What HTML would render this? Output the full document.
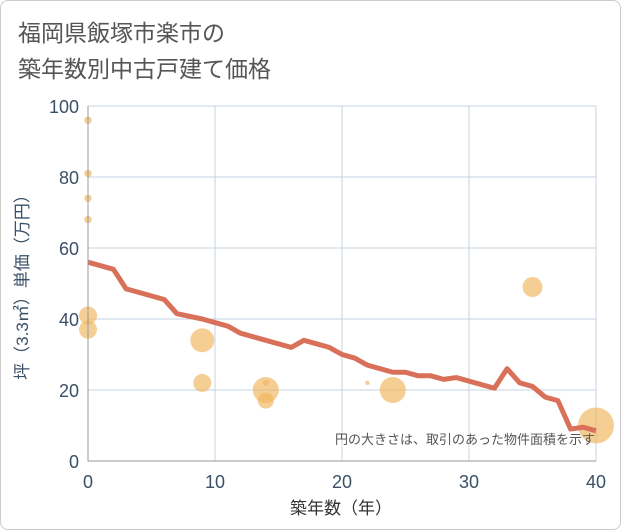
<!DOCTYPE html>
<html><head><meta charset="utf-8"><style>
body{margin:0;background:#fff;font-family:"Liberation Sans","Noto Sans CJK JP",sans-serif}
#wrap{position:relative;width:619px;height:528px;border:1px solid #ccc;border-radius:8px;overflow:hidden}
</style></head><body>
<div id="wrap">
<svg id="chart" width="621" height="530" style="position:absolute;left:-1px;top:-1px">
<text x="18" y="41" font-size="23" fill="#555">福岡県飯塚市楽市の</text>
<text x="18" y="77" font-size="23" fill="#555">築年数別中古戸建て価格</text>
<g id="grid"></g><g id="bubbles"></g><g id="line"></g><g id="axes"></g>
<text x="595" y="444" font-size="13" fill="#555" text-anchor="end">円の大きさは、取引のあった物件面積を示す</text>
<text x="341" y="514" font-size="17" fill="#333" text-anchor="middle">築年数（年）</text>
<text transform="translate(28,283) rotate(-90)" font-size="17" fill="#3a5068" text-anchor="middle">坪（3.3㎡）単価（万円）</text>
</svg>
</div>
<script>
const xTicks=[0,10,20,30,40];
const yTicks=[0,20,40,60,80,100];
const lineYears=[0,2,3,6,7,9,10,11,12,14,16,17,19,20,21,22,24,25,26,27,28,29,32,33,34,35,36,37,38,39,40];
const lineValues=[56,54,48.5,45.5,41.5,40,39,38,36,34,32,34,32,30,29,27,25,25,24,24,23,23.5,20.5,26,22,21,18,17,9,9.5,8.5];
const bubbleYears=[0,0,0,0,0,0,9,9,14,14,14,22,24,35,40];
const bubbleValues=[96,81,74,68,41,37,34,22,20,17,22,22,20,49,10];
const bubbleAreas=[14,14,14,14,81,81,144,81,169,64,9,5,169,100,324];
const NS="http://www.w3.org/2000/svg";
const X=v=>88+v*12.7, Y=v=>461-v*3.55;
function mk(p,t,a){const e=document.createElementNS(NS,t);for(const k in a)e.setAttribute(k,a[k]);document.getElementById(p).appendChild(e);return e;}
xTicks.forEach(t=>{
 const g=mk('grid','line',{x1:X(t),x2:X(t),y1:Y(100),y2:Y(0),stroke:'#c5d3e0','stroke-width':1});
 
 
 const l=mk('axes','text',{x:X(t),y:488,'font-size':18,fill:'#3a5068','text-anchor':'middle'});l.textContent=t;
 
 
});
yTicks.forEach(t=>{
 const g=mk('grid','line',{x1:X(0),x2:X(40),y1:Y(t),y2:Y(t),stroke:'#c5d3e0','stroke-width':1});
 
 
 const l=mk('axes','text',{x:79,y:Y(t)+7,'font-size':18,fill:'#3a5068','text-anchor':'end'});l.textContent=t;
 
 
});
const ax=mk('axes','path',{d:`M${X(0)} ${Y(100)}V${Y(0)}H${X(40)}`,stroke:'#999',fill:'none','stroke-width':1});


bubbleYears.forEach((yr,i)=>{
 const c=mk('bubbles','circle',{cx:X(yr),cy:Y(bubbleValues[i]),r:Math.sqrt(bubbleAreas[i]),fill:'#f0b45a','fill-opacity':0.65});
 
 
});
const p=mk('line','polyline',{points:lineYears.map((yr,i)=>X(yr)+','+Y(lineValues[i])).join(' '),fill:'none',stroke:'#d9705a','stroke-width':5,'stroke-linejoin':'round'});


</script>
</body></html>
